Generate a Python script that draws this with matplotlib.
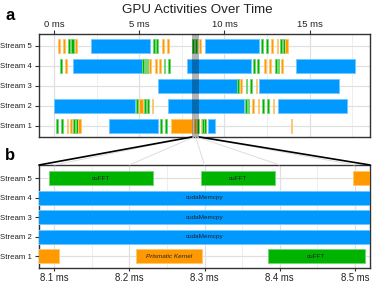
import matplotlib
matplotlib.use("Agg")
import matplotlib.pyplot as plt
from matplotlib.patches import ConnectionPatch
from matplotlib.ticker import MultipleLocator
from matplotlib.colors import to_rgb

plt.rcParams["font.family"] = ["Liberation Sans", "DejaVu Sans"]

# ---------------- data ----------------
streams = ["Stream 1", "Stream 2", "Stream 3", "Stream 4", "Stream 5"]

seg_stream = [5]*21 + [4]*20 + [3]*7 + [2]*15 + [1]*18
seg_start = [
    # stream 5
    0.20, 0.50, 0.83, 1.00, 1.22, 2.15, 5.81, 5.95, 6.34, 6.60, 8.093, 8.295, 8.497,
    8.85, 12.13, 12.44, 12.74, 13.07, 13.26, 13.42, 13.58,
    # stream 4
    0.32, 0.60, 1.07, 5.17, 5.30, 5.42, 5.57, 5.91, 6.14, 6.42, 6.70, 7.78,
    11.70, 11.93, 12.34, 12.64, 12.97, 13.13, 13.34, 14.18,
    # stream 3
    6.07, 10.75, 10.91, 11.26, 11.50, 11.83, 12.03,
    # stream 2
    0.00, 4.79, 4.99, 5.26, 5.42, 5.72, 6.70, 11.20, 11.36, 11.62, 11.94, 12.22, 12.49, 12.83, 13.12,
    # stream 1
    0.07, 0.40, 0.72, 0.92, 1.10, 1.30, 1.42, 3.22, 6.20, 6.52, 6.83, 8.2085, 8.384,
    8.60, 8.70, 8.81, 9.05, 13.92,
]
seg_end = [
    # stream 5
    0.35, 0.60, 0.93, 1.13, 1.36, 5.62, 5.91, 6.10, 6.44, 6.72, 8.231, 8.394, 8.62,
    12.03, 12.25, 12.56, 12.85, 13.15, 13.38, 13.54, 13.72,
    # stream 4
    0.44, 0.72, 5.13, 5.27, 5.38, 5.52, 5.67, 6.01, 6.24, 6.52, 6.80, 11.58,
    11.81, 12.05, 12.44, 12.74, 13.07, 13.22, 13.46, 17.67,
    # stream 3
    10.72, 10.87, 11.03, 11.34, 11.60, 11.93, 16.74,
    # stream 2
    4.74, 4.92, 5.19, 5.36, 5.54, 5.81, 11.12, 11.32, 11.45, 11.72, 12.03, 12.32, 12.59, 12.93, 17.19,
    # stream 1
    0.20, 0.52, 0.83, 1.02, 1.22, 1.40, 1.55, 6.07, 6.32, 6.64, 8.106, 8.2965, 8.513,
    8.70, 8.80, 8.91, 9.44, 13.96,
]
seg_kind = [
    # stream 5
    "k", "k", "f", "f", "k", "m", "f", "f", "k", "k", "f", "f", "k",
    "m", "f", "f", "k", "k", "f", "f", "k",
    # stream 4
    "f", "k", "m", "f", "f", "f", "k", "k", "k", "f", "f", "m",
    "f", "f", "k", "k", "f", "f", "k", "m",
    # stream 3
    "m", "f", "k", "f", "f", "k", "m",
    # stream 2
    "m", "f", "k", "f", "f", "k", "m", "f", "f", "k", "k", "f", "f", "k", "m",
    # stream 1
    "f", "f", "k", "k", "f", "f", "k", "m", "f", "f", "k", "k", "f",
    "k", "f", "f", "m", "k",
]
kind_names = {"m": "cudaMemcpy", "f": "cuFFT", "k": "Prismatic Kernel"}
kind_colors = {"m": "#0099ff", "f": "#00b300", "k": "#ff9900"}

top_ticks = [0, 5, 10, 15]
bot_ticks = [8.1, 8.2, 8.3, 8.4, 8.5]
top_xlim = (-0.9, 18.55)
zoom_lim = (8.08, 8.52)


def lighter(c, f=0.45):
    r, g, b = to_rgb(c)
    return (r + (1 - r) * f, g + (1 - g) * f, b + (1 - b) * f)


# ---------------- figure ----------------
fig = plt.figure(figsize=(3.73, 2.83), dpi=100)
W, H = 373, 283
ax1 = fig.add_axes([39 / W, (H - 137) / H, 331 / W, 102.7 / H])
ax2 = fig.add_axes([39 / W, (H - 268.3) / H, 331 / W, 103.3 / H])


def draw(ax, xlim, labels):
    for s, a, b, k in zip(seg_stream, seg_start, seg_end, seg_kind):
        if b <= a:
            continue
        ax.barh(s, b - a, left=a, height=0.7, color=kind_colors[k],
                edgecolor=lighter(kind_colors[k]), linewidth=0.7, zorder=3)
        if labels:
            lo, hi = max(a, xlim[0]), min(b, xlim[1])
            if hi - lo > 0.06:
                ax.text((lo + hi) / 2, s, kind_names[k], ha="center", va="center",
                        fontsize=4.6, color="#222222", zorder=4,
                        style="italic" if k == "k" else "normal")
    ax.set_xlim(*xlim)
    ax.set_yticks(range(1, 6))
    ax.set_yticklabels(streams, fontsize=5.6, color="#222222")
    ax.grid(True, which="major", color="#e0e0e0", linewidth=0.9, zorder=0)
    ax.grid(True, which="minor", axis="x", color="#eeeeee", linewidth=0.7, zorder=0)
    ax.set_axisbelow(True)
    for sp in ax.spines.values():
        sp.set_color("#333333")
        sp.set_linewidth(1.0)
    ax.tick_params(axis="y", length=3, width=0.8, color="#333333", pad=2)
    ax.tick_params(axis="x", length=3, width=0.8, color="#333333", pad=1.0)


draw(ax1, top_xlim, False)
ax1.set_ylim(0.435, 5.585)
ax1.xaxis.set_minor_locator(MultipleLocator(2.5))
ax1.set_xticks(top_ticks)
ax1.set_xticklabels([f"{t} ms" for t in top_ticks], fontsize=6.8, color="#222222")
ax1.xaxis.tick_top()
ax1.tick_params(axis="x", which="minor", length=0)
ax1.axvspan(zoom_lim[0], zoom_lim[1], color="black", alpha=0.3, zorder=5, linewidth=0)

draw(ax2, zoom_lim, True)
ax2.set_ylim(0.385, 5.68)
ax2.xaxis.set_minor_locator(MultipleLocator(0.05))
ax2.set_xticks(bot_ticks)
ax2.set_xticklabels([f"{t:.1f} ms" for t in bot_ticks], fontsize=6.9, color="#222222")
ax2.tick_params(axis="x", which="minor", length=0)
ax2.tick_params(axis="x", which="major", length=2.5, pad=0.6)

# connectors
y1b = ax1.get_ylim()[0]
y2t = ax2.get_ylim()[1]
for t in bot_ticks:
    cp = ConnectionPatch(xyA=(t, y1b), coordsA=ax1.transData,
                         xyB=(t, y2t), coordsB=ax2.transData,
                         color="#dddddd", linewidth=0.7, zorder=1)
    fig.add_artist(cp)
for t in zoom_lim:
    cp = ConnectionPatch(xyA=(t, y1b), coordsA=ax1.transData,
                         xyB=(t, y2t), coordsB=ax2.transData,
                         color="black", linewidth=1.2, zorder=2)
    fig.add_artist(cp)

fig.text(197 / W, 1 - 10 / H, "GPU Activities Over Time", ha="center", va="center",
         fontsize=9.6, color="#222222")
fig.text(5 / W, 1 - 15 / H, "a", ha="left", va="center", fontsize=12, fontweight="bold")
fig.text(5 / W, 1 - 155 / H, "b", ha="left", va="center", fontsize=12, fontweight="bold")

fig.savefig("out.png", dpi=100)
